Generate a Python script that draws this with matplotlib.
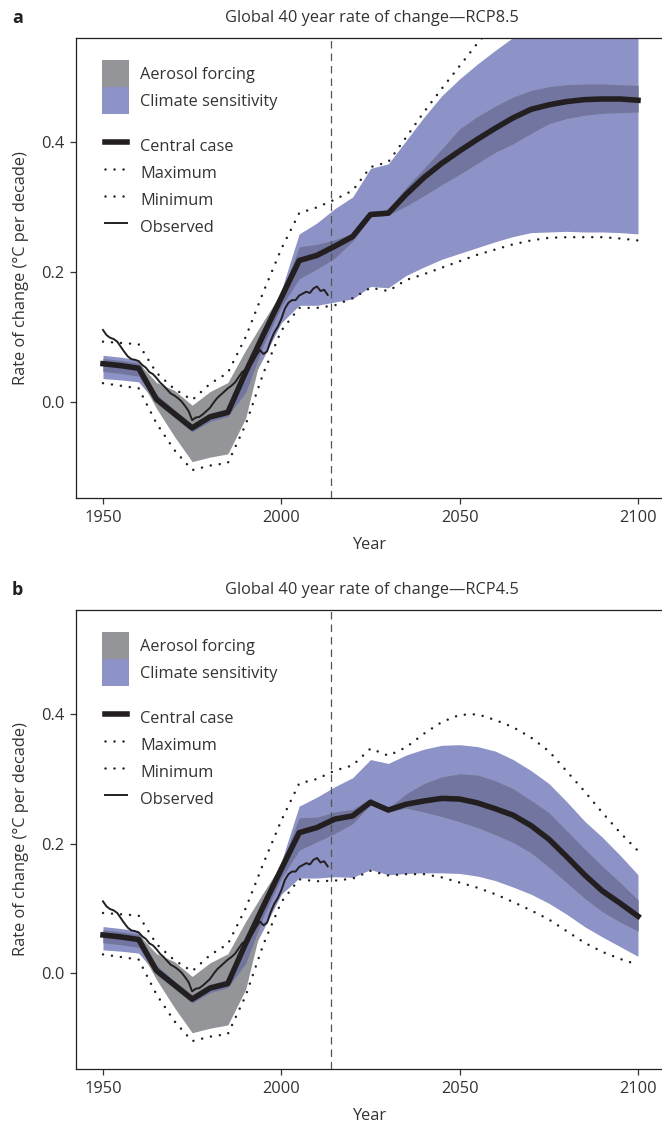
import numpy as np
import matplotlib
matplotlib.use('Agg')
import matplotlib.pyplot as plt
from matplotlib.lines import Line2D
from matplotlib.patches import Patch

plt.rcParams['font.family'] = ['Open Sans', 'DejaVu Sans']

TEXT = '#333333'
INK = '#231f20'
GREY = '#939598'
BLUE = '#8d93c7'
DARK = '#71759f'
FS = 11.8

# Model output every 5 years, observations every year
model_years = list(range(1950, 2101, 5))
obs_years = list(range(1950, 2014))

# 1950-2000, the same in both panels
central_hist = [0.059, 0.056, 0.052, 0.004, -0.018, -0.040, -0.023, -0.016, 0.046, 0.104, 0.161]
cs_hi_hist = [0.072, 0.069, 0.065, 0.012, -0.012, -0.034, -0.017, -0.010, 0.050, 0.107, 0.172]
cs_lo_hist = [0.036, 0.034, 0.031, -0.002, -0.024, -0.046, -0.030, -0.022, 0.015, 0.068, 0.122]
aer_hi_hist = [0.067, 0.064, 0.060, 0.030, 0.018, -0.005, 0.016, 0.030, 0.080, 0.125, 0.168]
aer_lo_hist = [0.047, 0.044, 0.040, -0.010, -0.053, -0.092, -0.085, -0.080, -0.025, 0.088, 0.147]
max_hist = [0.093, 0.091, 0.089, 0.045, 0.020, 0.003, 0.028, 0.045, 0.100, 0.170, 0.236]
min_hist = [0.029, 0.025, 0.021, -0.033, -0.074, -0.105, -0.098, -0.094, -0.035, 0.045, 0.110]

# 2005-2100, RCP8.5
central_85 = [0.218, 0.226, 0.240, 0.255, 0.289, 0.291, 0.320, 0.346, 0.368, 0.387,
              0.405, 0.422, 0.438, 0.451, 0.458, 0.463, 0.466, 0.467, 0.467, 0.465]
cs_hi_85 = [0.259, 0.276, 0.298, 0.316, 0.360, 0.367, 0.403, 0.439, 0.472, 0.498,
            0.521, 0.542, 0.562, 0.580, 0.597, 0.610, 0.620, 0.627, 0.632, 0.635]
cs_lo_85 = [0.149, 0.149, 0.154, 0.159, 0.178, 0.176, 0.195, 0.208, 0.220, 0.229,
            0.238, 0.247, 0.255, 0.261, 0.262, 0.263, 0.262, 0.262, 0.261, 0.259]
aer_hi_85 = [0.239, 0.243, 0.250, 0.260, 0.292, 0.297, 0.331, 0.360, 0.390, 0.421,
             0.440, 0.456, 0.470, 0.480, 0.486, 0.489, 0.490, 0.490, 0.489, 0.488]
aer_lo_85 = [0.190, 0.205, 0.222, 0.248, 0.285, 0.288, 0.302, 0.318, 0.335, 0.351,
             0.368, 0.385, 0.398, 0.414, 0.429, 0.437, 0.442, 0.445, 0.446, 0.447]
max_85 = [0.291, 0.300, 0.312, 0.326, 0.362, 0.370, 0.408, 0.447, 0.483, 0.518,
          0.553, 0.585, 0.615, 0.640, 0.660, 0.675, 0.685, 0.690, 0.695, 0.695]
min_85 = [0.145, 0.145, 0.149, 0.160, 0.176, 0.171, 0.188, 0.197, 0.207, 0.217,
          0.227, 0.235, 0.243, 0.249, 0.253, 0.254, 0.254, 0.254, 0.252, 0.249]

# 2005-2100, RCP4.5
central_45 = [0.217, 0.225, 0.238, 0.243, 0.264, 0.252, 0.261, 0.266, 0.270, 0.269,
              0.263, 0.254, 0.244, 0.228, 0.207, 0.180, 0.152, 0.127, 0.108, 0.088]
cs_hi_45 = [0.258, 0.272, 0.288, 0.302, 0.330, 0.324, 0.337, 0.346, 0.352, 0.353,
            0.350, 0.343, 0.330, 0.313, 0.293, 0.265, 0.235, 0.210, 0.182, 0.152]
cs_lo_45 = [0.147, 0.147, 0.149, 0.148, 0.160, 0.152, 0.154, 0.155, 0.155, 0.154,
            0.150, 0.143, 0.133, 0.122, 0.108, 0.091, 0.072, 0.056, 0.041, 0.026]
aer_hi_45 = [0.240, 0.241, 0.249, 0.253, 0.270, 0.255, 0.277, 0.293, 0.303, 0.308,
             0.306, 0.297, 0.285, 0.267, 0.248, 0.220, 0.192, 0.165, 0.140, 0.113]
aer_lo_45 = [0.190, 0.203, 0.216, 0.231, 0.260, 0.249, 0.255, 0.249, 0.242, 0.234,
             0.225, 0.214, 0.202, 0.186, 0.164, 0.140, 0.116, 0.095, 0.079, 0.065]
max_45 = [0.293, 0.300, 0.313, 0.321, 0.347, 0.336, 0.349, 0.370, 0.388, 0.399,
          0.400, 0.391, 0.380, 0.364, 0.343, 0.312, 0.281, 0.248, 0.217, 0.189]
min_45 = [0.145, 0.142, 0.143, 0.146, 0.158, 0.151, 0.153, 0.153, 0.148, 0.140,
          0.132, 0.122, 0.110, 0.097, 0.083, 0.065, 0.047, 0.033, 0.022, 0.013]

# Observed 40 year trend, 1950-2013
observed = [0.111, 0.103, 0.099, 0.097, 0.093, 0.085, 0.077, 0.070, 0.066, 0.065,
            0.063, 0.057, 0.053, 0.046, 0.043, 0.037, 0.030, 0.025, 0.019, 0.013,
            0.010, 0.006, 0.001, -0.006, -0.014, -0.028, -0.024, -0.023, -0.019, -0.014,
            -0.009, -0.001, 0.006, 0.011, 0.016, 0.021, 0.025, 0.030, 0.038, 0.046,
            0.050, 0.055, 0.062, 0.072, 0.080, 0.074, 0.078, 0.094, 0.107, 0.116,
            0.128, 0.144, 0.153, 0.157, 0.157, 0.164, 0.167, 0.170, 0.168, 0.175,
            0.178, 0.171, 0.173, 0.165]

DOTS = (0, (0.01, 3.6))


def draw_panel(ax, central, cs_lo, cs_hi, aer_lo, aer_hi, vmax, vmin):
    x = np.array(model_years)
    cs_lo, cs_hi = np.array(cs_lo), np.array(cs_hi)
    aer_lo, aer_hi = np.array(aer_lo), np.array(aer_hi)

    # Ranges: climate sensitivity, aerosol forcing, and where they overlap
    ax.fill_between(x, cs_lo, cs_hi, color=BLUE, lw=0, zorder=1)
    ax.fill_between(x, aer_lo, aer_hi, color=GREY, lw=0, zorder=2)
    both_lo = np.maximum(cs_lo, aer_lo)
    both_hi = np.minimum(cs_hi, aer_hi)
    ax.fill_between(x, both_lo, both_hi, where=both_hi > both_lo, interpolate=True,
                    color=DARK, lw=0, zorder=3)

    ax.plot(x, vmax, color=INK, lw=1.8, linestyle=DOTS, dash_capstyle='round', zorder=4)
    ax.plot(x, vmin, color=INK, lw=1.8, linestyle=DOTS, dash_capstyle='round', zorder=4)
    ax.plot(x, central, color=INK, lw=4, zorder=6)
    ax.plot(obs_years, observed, color=INK, lw=1.4, zorder=7)

    ax.axvline(2014, color='#555555', lw=0.9, dashes=(6, 4), zorder=5)

    ax.set_xlim(1942.43, 2106.73)
    ax.set_ylim(-0.148, 0.561)
    ax.set_xticks([1950, 2000, 2050, 2100])
    ax.set_yticks([0.0, 0.2, 0.4])
    ax.set_yticklabels(['0.0', '0.2', '0.4'])
    ax.tick_params(colors=TEXT, labelsize=FS, length=4.3, width=0.9, pad=4)
    ax.spines['right'].set_visible(False)
    for side in ['top', 'left', 'bottom']:
        ax.spines[side].set_color(INK)
        ax.spines[side].set_linewidth(0.9)

    ax.set_xlabel('Year', fontsize=FS, color=TEXT, labelpad=8)
    ax.set_ylabel('Rate of change (°C per decade)', fontsize=FS, color=TEXT)
    ax.yaxis.set_label_coords(-0.080, 0.5)

    # Legend: shaded ranges first, then the lines below
    patches = [Patch(facecolor=GREY, edgecolor='none', label='Aerosol forcing'),
               Patch(facecolor=BLUE, edgecolor='none', label='Climate sensitivity')]
    leg = ax.legend(handles=patches, loc='upper left', bbox_to_anchor=(0.0444, 0.952),
                    frameon=False, borderpad=0, borderaxespad=0, labelspacing=0,
                    handlelength=1.647, handleheight=2.157, handletextpad=0.67,
                    fontsize=FS, labelcolor=TEXT)
    ax.add_artist(leg)

    lines = [Line2D([], [], color=INK, lw=4, label='Central case'),
             Line2D([], [], color=INK, lw=1.8, linestyle=DOTS, dash_capstyle='round', label='Maximum'),
             Line2D([], [], color=INK, lw=1.8, linestyle=DOTS, dash_capstyle='round', label='Minimum'),
             Line2D([], [], color=INK, lw=1.4, label='Observed')]
    ax.legend(handles=lines, loc='upper left', bbox_to_anchor=(0.0495, 0.7946),
              frameon=False, borderpad=0, borderaxespad=0, labelspacing=0,
              handlelength=1.34, handleheight=2.157, handletextpad=0.79,
              fontsize=FS, labelcolor=TEXT)


fig = plt.figure(figsize=(6.62, 11.24), dpi=100)
ax_a = fig.add_axes([76 / 662, 1 - 498 / 1124, 586 / 662, 460 / 1124])
ax_b = fig.add_axes([76 / 662, 1 - 1069 / 1124, 586 / 662, 459 / 1124])

draw_panel(ax_a, central_hist + central_85, cs_lo_hist + cs_lo_85, cs_hi_hist + cs_hi_85,
           aer_lo_hist + aer_lo_85, aer_hi_hist + aer_hi_85, max_hist + max_85, min_hist + min_85)
draw_panel(ax_b, central_hist + central_45, cs_lo_hist + cs_lo_45, cs_hi_hist + cs_hi_45,
           aer_lo_hist + aer_lo_45, aer_hi_hist + aer_hi_45, max_hist + max_45, min_hist + min_45)

for label, title, ypx in [('a', 'Global 40 year rate of change—RCP8.5', 18),
                          ('b', 'Global 40 year rate of change—RCP4.5', 590)]:
    fig.text(12 / 662, 1 - ypx / 1124, label, fontsize=13, fontweight='bold',
             color=INK, va='center', ha='left')
    fig.text(372 / 662, 1 - ypx / 1124, title, fontsize=FS, color=TEXT,
             va='center', ha='center')

fig.savefig('out.png', dpi=100)
